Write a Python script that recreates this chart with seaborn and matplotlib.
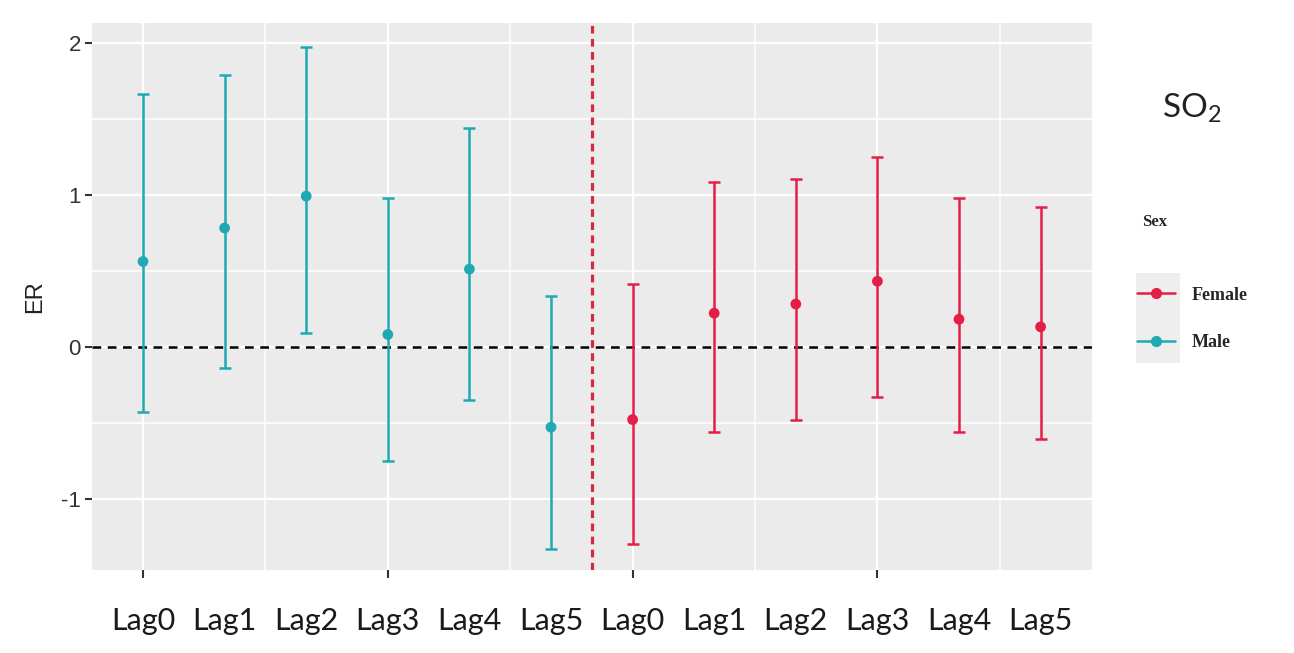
import numpy as np
import pandas as pd
import seaborn as sns
import matplotlib.pyplot as plt
import matplotlib.transforms as mtransforms
from matplotlib.lines import Line2D
from matplotlib.patches import Rectangle

# ER 及 95%CI，按性别与滞后天数
lags = ['Lag0', 'Lag1', 'Lag2', 'Lag3', 'Lag4', 'Lag5']
male_er = [0.56, 0.78, 0.99, 0.08, 0.51, -0.53]
male_lo = [-0.43, -0.14, 0.09, -0.75, -0.35, -1.33]
male_hi = [1.66, 1.79, 1.97, 0.98, 1.44, 0.33]
female_er = [-0.48, 0.22, 0.28, 0.43, 0.18, 0.13]
female_lo = [-1.30, -0.56, -0.48, -0.33, -0.56, -0.61]
female_hi = [0.41, 1.08, 1.10, 1.25, 0.98, 0.92]

colors = {'Male': '#1FA9B2', 'Female': '#E41E45'}

n = len(lags)
df = pd.DataFrame({
    'pos': list(range(n)) + list(range(n, 2 * n)),
    'Sex': ['Male'] * n + ['Female'] * n,
    'ER': male_er + female_er,
    'lo': male_lo + female_lo,
    'hi': male_hi + female_hi,
    'lag': lags + lags,
})

sns.set_theme(style="darkgrid", rc={"axes.facecolor": "#EBEBEB", "grid.color": "white"})
plt.rcParams['font.family'] = ['Liberation Sans', 'DejaVu Sans']
plt.rcParams['mathtext.default'] = 'regular'

fig, ax = plt.subplots(figsize=(12.94, 6.53), dpi=100)
fig.subplots_adjust(left=0.0711, right=0.8439, bottom=0.127, top=0.965)

# 误差线
for sex, sub in df.groupby('Sex'):
    ax.errorbar(sub['pos'], sub['ER'],
                yerr=[sub['ER'] - sub['lo'], sub['hi'] - sub['ER']],
                fmt='none', ecolor=colors[sex], elinewidth=1.8,
                capsize=4, capthick=1.8, zorder=3)

sns.scatterplot(data=df, x='pos', y='ER', hue='Sex', palette=colors,
                s=60, edgecolor='none', legend=False, zorder=4, ax=ax)

ax.axhline(0, color='black', lw=1.8, ls=(0, (3.5, 2.6)), zorder=2.5)
ax.axvline(n - 0.5, color='#D42A3A', lw=2.3, ls=(0, (2.4, 1.7)), zorder=2.5)

ax.set_xlim(-0.625, 11.63)
ax.set_ylim(-1.47, 2.13)

ax.set_xticks([0, 3, 6, 9])
ax.set_xticks([1.5, 4.5, 7.5, 10.5], minor=True)
ax.set_yticks([-1, 0, 1, 2])
ax.set_yticks([-0.5, 0.5, 1.5], minor=True)
ax.set_yticklabels(['-1', '0', '1', '2'])
ax.grid(which='major', color='white', lw=1.6)
ax.grid(which='minor', color='white', lw=1.1)

ax.tick_params(axis='x', which='major', bottom=True, length=6, width=1.5,
               color='#333333', labelbottom=False, pad=0)
ax.tick_params(axis='y', which='major', left=True, length=5, width=1.5,
               color='#333333', labelsize=16, labelcolor='#333333', pad=3)
ax.tick_params(which='minor', length=0)
for s in ax.spines.values():
    s.set_visible(False)

# 下方 Lag 标签
trans = mtransforms.blended_transform_factory(ax.transData, ax.transAxes)
for p, lab in zip(df['pos'], df['lag']):
    ax.text(p, -0.093, lab, transform=trans, ha='center', va='center',
            fontsize=22, color='#1A1A1A', family=['Lato', 'DejaVu Sans'])

ax.set_xlabel('')
ax.set_ylabel('ER', fontsize=17, color='#222222', va='center')
ax.yaxis.set_label_coords(-0.057, 0.5)

# 图例
fig.text(1192 / 1294, 1 - 108 / 653, 'SO$_2$', ha='center', va='center',
         fontsize=24, color='#222222', family=['Lato', 'DejaVu Sans'])
fig.text(1142 / 1294, 1 - 222 / 653, 'Sex', ha='left', va='center',
         fontsize=12, weight='bold', family=['Liberation Serif', 'DejaVu Serif'])
fig.patches.append(Rectangle((1136 / 1294, 1 - 363 / 653), 44 / 1294, 90 / 653,
                             transform=fig.transFigure, facecolor='#EEEEEE',
                             edgecolor='none', zorder=0))
handles = [Line2D([], [], color=colors[s], lw=1.8, marker='o', markersize=7)
           for s in ['Female', 'Male']]
fig.legend(handles, ['Female', 'Male'], loc='center left',
           bbox_to_anchor=(1130 / 1294, 1 - 319 / 653), borderaxespad=0,
           frameon=False, handlelength=2.1, handletextpad=0.9, labelspacing=1.7,
           prop={'family': ['Liberation Serif', 'DejaVu Serif'], 'weight': 'bold', 'size': 13})

fig.savefig('out.png', dpi=100, facecolor='white')
